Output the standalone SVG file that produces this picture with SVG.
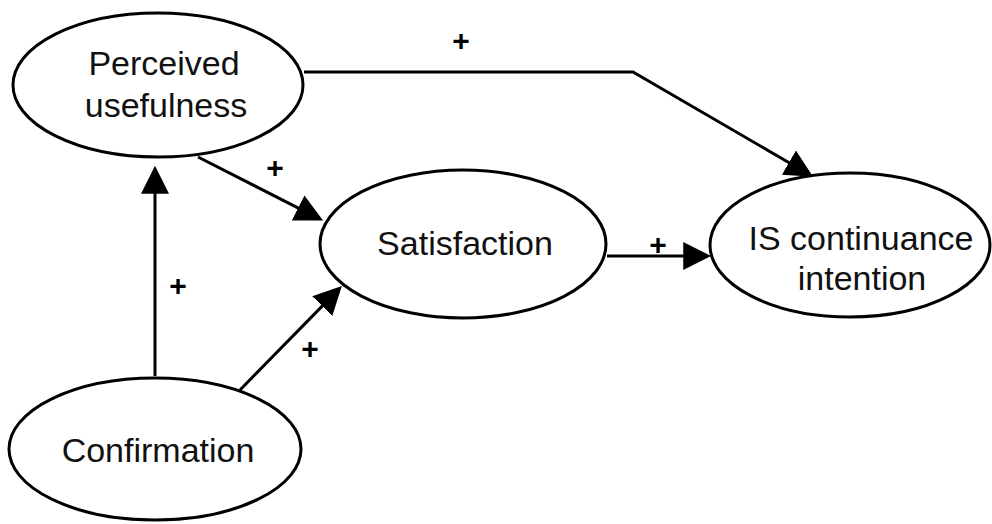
<svg xmlns="http://www.w3.org/2000/svg" width="992" height="524" viewBox="0 0 992 524">
<style>
.node{fill:#fff;stroke:#000;stroke-width:3}
.lbl{font-family:"Liberation Sans",Arial,sans-serif;font-size:34px;fill:#111;text-anchor:middle}
.conn{fill:none;stroke:#000;stroke-width:3}
.plus{font-family:"Liberation Sans",Arial,sans-serif;font-size:30px;font-weight:bold;fill:#000;text-anchor:middle}
</style>
<defs>
<marker id="arr" markerUnits="userSpaceOnUse" markerWidth="28" markerHeight="28" viewBox="0 0 26 26" refX="10" refY="13" orient="auto">
<path d="M0,0 L26,13 L0,26 z" fill="#000"/>
</marker>
</defs>
<rect width="992" height="524" fill="#fff"/>
<g id="connectors">
<line class="conn" x1="155" y1="376" x2="155" y2="183" marker-end="url(#arr)"/>
<line class="conn" x1="198" y1="157" x2="307.7" y2="212.8" marker-end="url(#arr)"/>
<line class="conn" x1="240" y1="390" x2="329.8" y2="298.4" marker-end="url(#arr)"/>
<line class="conn" x1="607" y1="256" x2="694" y2="256" marker-end="url(#arr)"/>
<polyline class="conn" points="304,72 633,72 798.2,168" marker-end="url(#arr)"/>
<text class="plus" x="461" y="50.5">+</text>
<text class="plus" x="275" y="177.5">+</text>
<text class="plus" x="178" y="295.5">+</text>
<text class="plus" x="310" y="358.5">+</text>
<text class="plus" x="658" y="255">+</text>
</g>
<g id="perceived-usefulness">
<ellipse class="node" cx="158" cy="85" rx="145" ry="72"/>
<text class="lbl" x="164" y="75">Perceived</text>
<text class="lbl" x="166" y="117">usefulness</text>
</g>
<g id="satisfaction">
<ellipse class="node" cx="463" cy="244" rx="143" ry="74"/>
<text class="lbl" x="465" y="255">Satisfaction</text>
</g>
<g id="is-continuance-intention">
<ellipse class="node" cx="850" cy="245" rx="140" ry="72"/>
<text class="lbl" x="861" y="250">IS continuance</text>
<text class="lbl" x="862" y="290">intention</text>
</g>
<g id="confirmation">
<ellipse class="node" cx="155" cy="449" rx="146" ry="71"/>
<text class="lbl" x="158" y="462">Confirmation</text>
</g>
</svg>
